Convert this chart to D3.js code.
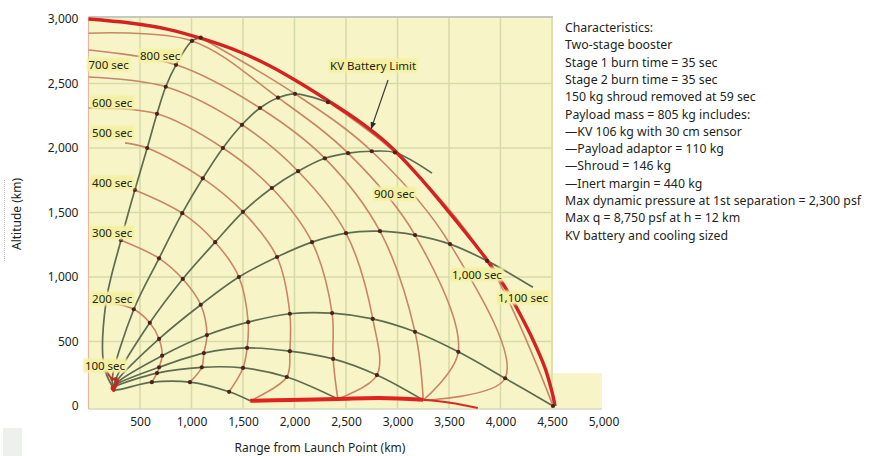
<!DOCTYPE html>
<html lang="en">
<head>
<meta charset="UTF-8">
<title>Booster Trajectory Footprint</title>
<script src="https://cdn.jsdelivr.net/npm/d3@7"></script>
<style>
  body { margin: 0; background: #fff; }
  svg { display: block; font-family: "Noto Sans", "Open Sans", sans-serif; }
</style>
</head>
<body>
<svg id="chart" width="873" height="456"></svg>
<script>
// ---- data, all in km (range, altitude) ----
const xTicks = [500, 1000, 1500, 2000, 2500, 3000, 3500, 4000, 4500, 5000];
const yTicks = [0, 500, 1000, 1500, 2000, 2500, 3000];
const xGrid = [500, 1000, 1500, 2000, 2500, 3000, 3500, 4000, 4500];
const yGrid = [500, 1000, 1500, 2000, 2500];

const launch = [240, 140];

// trajectory marks every 100 sec (first entry = 100 sec)
const traj1 = [[150,310],[170,805],[315,1285],[450,1675],[570,2000],[665,2265],[750,2475],[850,2645],[1005,2830],[1090,2855]];
const traj2 = [[230,210],[440,750],[685,1145],[910,1495],[1110,1765],[1305,2000],[1490,2180],[1665,2310],[1840,2390],[2005,2420],[2325,2355]];
const traj3 = [[265,210],[595,645],[915,985],[1230,1270],[1500,1505],[1780,1690],[2035,1820],[2295,1920],[2520,1960],[2750,1975],[2975,1965]];
const traj4 = [[275,195],[685,520],[1090,785],[1460,1000],[1830,1155],[2170,1270],[2500,1340],[2830,1355],[3170,1325],[3510,1255],[3870,1125]];
const traj5 = [[275,180],[715,390],[1150,550],[1550,650],[1955,715],[2365,720],[2760,675],[3170,575],[3590,420],[4045,215],[4510,0]];
const traj6 = [[265,165],[685,300],[1120,410],[1540,450],[1955,425],[2375,365],[2800,240]];
const traj7 = [[255,150],[665,255],[1100,300],[1500,295],[1925,225]];
const traj8 = [[245,125],[615,185],[985,185],[1365,110]];

// points after the last mark (impact or end of track)
const tail1 = [];
const tail2 = [];
const tail3 = [[3335,1805]];
const tail4 = [[4315,920]];
const tail5 = [];
const tail6 = [[3250,45]];
const tail7 = [[2420,55]];
const tail8 = [[1570,40]];

const isoTimes = [100, 200, 300, 400, 500, 600, 700, 800, 900, 1000, 1100];
const isoStart = [null, null, null, null, [355,2040], [0,2310], [0,2550], [0,2760], [0,2890], null, null];
const isoEnd = [null, null, null, null, [1570,40], [2420,55], [2420,55], [3250,45], [3250,45], [3250,45], null];

const isoLabels = ["100 sec","200 sec","300 sec","400 sec","500 sec","600 sec","700 sec","800 sec","900 sec","1,000 sec","1,100 sec"];
const isoLabelX = [-35, 35, 35, 35, 35, 35, 0, 500, 2772, 3529, 3976];
const isoLabelY = [310, 829, 1341, 1729, 2116, 2349, 2643, 2713, 1643, 1016, 837];

const batteryLimit = [[0,3000],[403,2969],[762,2922],[1112,2845],[1471,2744],[1762,2636],[2053,2504],[2345,2357],
  [2636,2202],[2927,2016],[3248,1744],[3578,1426],[3869,1132],[4044,922],[4189,713],[4316,512],[4432,295],[4500,109],[4530,0]];
const groundTrack = [[1570,40],[1950,47],[2420,55],[2830,62],[3250,48]];
const groundTail = [[3250,48],[3510,25],[3780,-15]];

const batteryLabel = "KV Battery Limit";
const batteryLabelPos = [2345, 2636];
const batteryArrow = [[2908,2527],[2745,2150]];

const notes = [
  "Characteristics:",
  "Two-stage booster",
  "Stage 1 burn time = 35 sec",
  "Stage 2 burn time = 35 sec",
  "150 kg shroud removed at 59 sec",
  "Payload mass = 805 kg includes:",
  "\u2014KV 106 kg with 30 cm sensor",
  "\u2014Payload adaptor = 110 kg",
  "\u2014Shroud = 146 kg",
  "\u2014Inert margin = 440 kg",
  "Max dynamic pressure at 1st separation = 2,300 psf",
  "Max q = 8,750 psf at h = 12 km",
  "KV battery and cooling sized"
];

// ---- drawing ----
const trajs = [traj1, traj2, traj3, traj4, traj5, traj6, traj7, traj8];
const tails = [tail1, tail2, tail3, tail4, tail5, tail6, tail7, tail8];

const svg = d3.select("#chart");
const x = d3.scaleLinear().domain([0, 5000]).range([88.5, 603.5]);
const y = d3.scaleLinear().domain([0, 3000]).range([406, 19]);
const plotTop = 17, plotBottom = 409;

const line = d3.line().x(d => x(d[0])).y(d => y(d[1])).curve(d3.curveCatmullRom.alpha(0.5));

// background panels
svg.append("rect").attr("x", x(0)).attr("y", plotTop)
  .attr("width", x(4500) - x(0) + 1).attr("height", plotBottom - plotTop).attr("fill", "#f7f5c7");
svg.append("rect").attr("x", x(4500)).attr("y", y(255))
  .attr("width", x(4985) - x(4500)).attr("height", plotBottom - y(255)).attr("fill", "#f7f5c7");
svg.append("line").attr("x1", x(4500)).attr("x2", x(4985)).attr("y1", plotBottom).attr("y2", plotBottom)
  .attr("stroke", "#d8d8c8").attr("stroke-width", 1.5);

// grid
svg.append("g").selectAll("line").data(xGrid).join("line")
  .attr("x1", d => x(d)).attr("x2", d => x(d)).attr("y1", plotTop).attr("y2", plotBottom)
  .attr("stroke", "#d7dba8").attr("stroke-width", 1.6);
svg.append("g").selectAll("line").data(yGrid).join("line")
  .attr("x1", x(0)).attr("x2", x(4500)).attr("y1", d => y(d)).attr("y2", d => y(d))
  .attr("stroke", "#d7dba8").attr("stroke-width", 1.6);
svg.append("line").attr("x1", x(0)).attr("x2", x(4500)).attr("y1", plotBottom).attr("y2", plotBottom)
  .attr("stroke", "#d5d8c0").attr("stroke-width", 1.5);
svg.append("line").attr("x1", x(0)).attr("x2", x(4500) + 1).attr("y1", plotTop).attr("y2", plotTop)
  .attr("stroke", "#c6c7bd").attr("stroke-width", 2);
svg.append("line").attr("x1", x(0)).attr("x2", x(0)).attr("y1", plotTop).attr("y2", plotBottom)
  .attr("stroke", "#e8b5a2").attr("stroke-width", 1.2);

// isochrones
const isoPaths = isoTimes.map((t, i) => {
  const pts = [];
  if (isoStart[i]) pts.push(isoStart[i]);
  trajs.forEach(tr => { if (tr[i]) pts.push(tr[i]); });
  if (isoEnd[i]) pts.push(isoEnd[i]);
  return pts;
});
svg.append("g").selectAll("path").data(isoPaths).join("path")
  .attr("d", line).attr("fill", "none")
  .attr("stroke", (d, i) => i === 0 ? "#c8322a" : "#c98564")
  .attr("stroke-width", (d, i) => i === 0 ? 2 : 1.6);

// trajectories
svg.append("g").selectAll("path").data(trajs).join("path")
  .attr("d", (d, i) => line([launch, ...d, ...tails[i]]))
  .attr("fill", "none").attr("stroke", "#5e6c50").attr("stroke-width", 1.7);

// ground track and battery limit
svg.append("path").datum(groundTail).attr("d", line).attr("fill", "none")
  .attr("stroke", "#d92a22").attr("stroke-width", 2);
svg.append("path").datum(groundTrack).attr("d", line).attr("fill", "none")
  .attr("stroke", "#e0231e").attr("stroke-width", 4);
svg.append("path").datum(batteryLimit).attr("d", line).attr("fill", "none")
  .attr("stroke", "#d42222").attr("stroke-width", 3.4);

// time marks
const marks = [];
trajs.forEach(tr => tr.forEach((p, k) => marks.push({p, k})));
svg.append("g").selectAll("circle").data(marks).join("circle")
  .attr("cx", d => x(d.p[0])).attr("cy", d => y(d.p[1]))
  .attr("r", d => d.k === 0 ? 2 : 2.1)
  .attr("fill", d => d.k === 0 ? "#c22a22" : "#4a2218");
svg.append("circle").attr("cx", x(launch[0])).attr("cy", y(launch[1])).attr("r", 2.6).attr("fill", "#c8281f");

// labels with highlight boxes
const defs = svg.append("defs");
defs.append("filter").attr("id", "soft").append("feGaussianBlur").attr("stdDeviation", 0.8);
defs.append("marker").attr("id", "arrow").attr("viewBox", "0 0 10 10").attr("refX", 9).attr("refY", 5)
  .attr("markerWidth", 6).attr("markerHeight", 6).attr("orient", "auto")
  .append("path").attr("d", "M0,1 L10,5 L0,9 Z").attr("fill", "#2a2a2a");

function addLabel(txt, px, py) {
  const g = svg.append("g");
  const t = g.append("text").attr("x", px).attr("y", py).attr("dy", "0.35em")
    .attr("font-size", 11.5).attr("fill", "#231f20").text(txt);
  const b = t.node().getBBox();
  g.insert("rect", "text").attr("x", b.x - 1.5).attr("y", b.y + 0.5)
    .attr("width", b.width + 3).attr("height", b.height - 1)
    .attr("fill", "#f4f0a2").attr("filter", "url(#soft)");
}
isoLabels.forEach((s, i) => addLabel(s, x(isoLabelX[i]), y(isoLabelY[i])));

svg.append("line").attr("x1", x(batteryArrow[0][0])).attr("y1", y(batteryArrow[0][1]))
  .attr("x2", x(batteryArrow[1][0])).attr("y2", y(batteryArrow[1][1]))
  .attr("stroke", "#3a3a3a").attr("stroke-width", 1.2).attr("marker-end", "url(#arrow)");
addLabel(batteryLabel, x(batteryLabelPos[0]), y(batteryLabelPos[1]));

// axes
const yAxis = svg.append("g").attr("transform", `translate(${x(0)},0)`)
  .call(d3.axisLeft(y).tickValues(yTicks).tickSize(0).tickPadding(10).tickFormat(d3.format(",")));
const xAxis = svg.append("g").attr("transform", `translate(0,${y(0)})`)
  .call(d3.axisBottom(x).tickValues(xTicks).tickSize(0).tickPadding(11).tickFormat(d3.format(",")));
[xAxis, yAxis].forEach(a => {
  a.select(".domain").remove();
  a.selectAll("text").attr("font-size", 12).attr("fill", "#231f20")
    .attr("font-family", "'Noto Sans', sans-serif");
});

svg.append("text").attr("transform", "translate(21,214) rotate(-90)")
  .attr("text-anchor", "middle").attr("font-size", 12).attr("fill", "#231f20").text("Altitude (km)");
svg.append("text").attr("x", 320).attr("y", 452)
  .attr("text-anchor", "middle").attr("font-size", 12).attr("fill", "#231f20").text("Range from Launch Point (km)");

// side notes
svg.append("g").selectAll("text").data(notes).join("text")
  .attr("x", 565).attr("y", (d, i) => 32 + i * 17.3)
  .attr("font-size", 12.3).attr("fill", "#231f20").text(d => d);

// page artefacts at left edge
svg.append("rect").attr("x", 3).attr("y", 428).attr("width", 19).attr("height", 28).attr("fill", "#eef0ee");
svg.append("line").attr("x1", 4.5).attr("x2", 4.5).attr("y1", 180).attr("y2", 262)
  .attr("stroke", "#b5b5b5").attr("stroke-dasharray", "1,1");
</script>
</body>
</html>
